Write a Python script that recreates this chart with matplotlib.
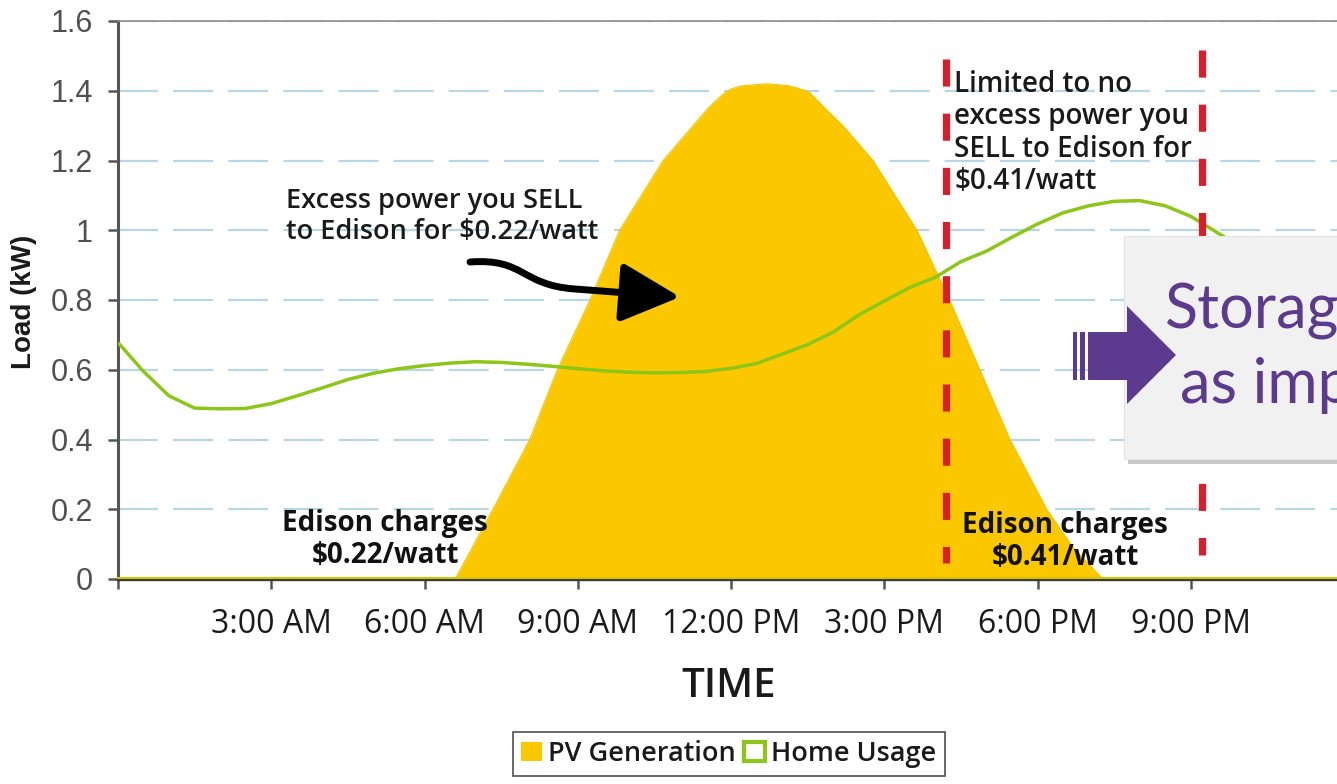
import matplotlib
matplotlib.use("Agg")
import matplotlib.pyplot as plt
from matplotlib.patches import Rectangle, Patch, FancyArrowPatch, Polygon
from matplotlib.path import Path

# ---------------- data ----------------
pv_hours = [0, 6.6, 6.97, 7.34, 8.06, 8.6, 9.24, 9.82, 10.67, 11.26, 11.55, 11.84, 12.0, 12.2,
            12.7, 13.1, 13.3, 13.54, 13.84, 14.19, 14.78, 15.64, 16.28, 16.87, 17.46, 18.18,
            18.7, 19.28, 24]
pv_values = [0, 0, 0.1, 0.2, 0.4, 0.6, 0.8, 1.0, 1.2, 1.3, 1.35, 1.39, 1.405, 1.414,
             1.42, 1.415, 1.408, 1.395, 1.35, 1.3, 1.2, 1.0, 0.8, 0.6, 0.4, 0.2,
             0.09, 0, 0]

use_hours = [0, 0.5, 1.0, 1.5, 2.0, 2.5, 3.0, 3.5, 4.0, 4.5, 5.0, 5.5, 6.0, 6.5, 7.0,
             7.5, 8.0, 8.5, 9.0, 9.5, 10.0, 10.5, 11.0, 11.5, 12.0, 12.5, 13.0, 13.5,
             14.0, 14.5, 15.0, 15.5, 16.0, 16.5, 17.0, 17.5, 18.0, 18.5, 19.0, 19.5,
             20.0, 20.5, 21.0, 21.5, 22.0, 23.0, 24.0]
use_values = [0.678, 0.595, 0.525, 0.49, 0.488, 0.489, 0.503, 0.525, 0.548, 0.572, 0.59,
              0.603, 0.612, 0.619, 0.623, 0.621, 0.616, 0.61, 0.603, 0.597, 0.593, 0.591,
              0.592, 0.595, 0.604, 0.618, 0.645, 0.672, 0.708, 0.757, 0.797, 0.836, 0.865,
              0.91, 0.94, 0.98, 1.018, 1.05, 1.07, 1.083, 1.085, 1.07, 1.04, 0.995, 0.95,
              0.85, 0.75]

tick_hours = [0, 3, 6, 9, 12, 15, 18, 21, 24]
tick_labels = ["", "3:00 AM", "6:00 AM", "9:00 AM", "12:00 PM", "3:00 PM", "6:00 PM", "9:00 PM", ""]
y_ticks = [0, 0.2, 0.4, 0.6, 0.8, 1.0, 1.2, 1.4, 1.6]
y_tick_labels = ["0", "0.2", "0.4", "0.6", "0.8", "1", "1.2", "1.4", "1.6"]

rate_lines_hours = [16.2, 21.22]
rate_lines_top = [1.49, 1.517]
rate_lines_bottom = [0.045, 0.07]

series_names = ["PV Generation", "Home Usage"]

# ---------------- style ----------------
W, H = 1337, 784
YELLOW = "#fbc800"
GREEN = "#8cc618"
RED = "#d81e2a"
PURPLE = "#5c3a8e"
GRID = "#b7d6e6"
SANS = ["Open Sans", "DejaVu Sans"]
ARIAL = ["Liberation Sans", "DejaVu Sans"]


def fx(px):
    return px / W


def fy(py):
    return 1 - py / H


fig = plt.figure(figsize=(W / 100, H / 100), dpi=100)
fig.patch.set_facecolor("white")

ax_left, ax_right, ax_top, ax_bottom = 118, 1344, 21, 579
ax = fig.add_axes([fx(ax_left), fy(ax_bottom), (ax_right - ax_left) / W, (ax_bottom - ax_top) / H])
ax.set_xlim(0, 24)
ax.set_ylim(0, 1.6)


def dx(px):
    return (px - ax_left) / (ax_right - ax_left) * 24


def dy(py):
    return (ax_bottom - py) / (ax_bottom - ax_top) * 1.6


# grid
ax.set_axisbelow(True)
ax.yaxis.grid(True, color=GRID, linewidth=1.6, linestyle=(0, (18, 6.8)))
ax.xaxis.grid(False)

# PV fill
ax.fill_between(pv_hours, pv_values, 0, color=YELLOW, linewidth=0, zorder=2)
ax.plot(pv_hours, pv_values, color="#f0c400", linewidth=0.8, zorder=2)
ax.plot([0, 24], [0.004, 0.004], color="#d9c200", linewidth=1.5, zorder=3, clip_on=False)

# Home usage line
ax.plot(use_hours, use_values, color=GREEN, linewidth=2.5, zorder=4, solid_capstyle="butt")

# red dashed rate lines
for h, t, b in zip(rate_lines_hours, rate_lines_top, rate_lines_bottom):
    ax.plot([h, h], [t, b], color=RED, linewidth=5.2, linestyle=(0, (3.75, 3.75)),
            dash_capstyle="butt", zorder=5)

# spines
ax.spines["right"].set_visible(False)
ax.spines["top"].set_color("#8a8a8a")
ax.spines["top"].set_linewidth(1.2)
ax.spines["left"].set_color("#555555")
ax.spines["left"].set_linewidth(2.2)
ax.spines["bottom"].set_color("#3a3a3a")
ax.spines["bottom"].set_linewidth(2.4)

ax.set_yticks(y_ticks)
ax.set_yticklabels(y_tick_labels, fontfamily=ARIAL, fontsize=22, color="#505050")
ax.set_xticks(tick_hours)
ax.set_xticklabels(tick_labels, fontfamily=SANS, fontsize=23, color="#1a1a1a")
ax.tick_params(axis="y", direction="out", length=7, width=1.8, color="#555555", pad=11)
ax.tick_params(axis="x", direction="out", length=7, width=1.8, color="#555555", pad=14)

# axis titles
fig.text(fx(24), fy(302), "Load (kW)", rotation=90, ha="center", va="center",
         fontsize=20, fontweight="bold", family=ARIAL, color="#1a1a1a")
fig.text(fx(729), fy(697), "TIME", ha="center", va="baseline",
         fontsize=29, fontweight="semibold", family=SANS, color="#1a1a1a")

# annotations
txt_kw = dict(family=SANS, color="#1a1a1a", fontweight="semibold")
fig.text(fx(286), fy(187), "Excess power you SELL\nto Edison for $0.22/watt", ha="left", va="top",
         fontsize=19.5, linespacing=1.12, **txt_kw)
fig.text(fx(954), fy(70), "Limited to no\nexcess power you\nSELL to Edison for\n$0.41/watt",
         ha="left", va="top", fontsize=20, linespacing=1.15, **txt_kw)
fig.text(fx(385), fy(509), "Edison charges\n$0.22/watt", ha="center", va="top", fontsize=20,
         linespacing=1.12, family=SANS, fontweight="bold", color="#111111", multialignment="center")
fig.text(fx(1065), fy(511), "Edison charges\n$0.41/watt", ha="center", va="top", fontsize=20,
         linespacing=1.12, family=SANS, fontweight="bold", color="#111111", multialignment="center")

# curly black arrow
verts = [(dx(470), dy(262)), (dx(525), dy(258)), (dx(520), dy(285)), (dx(575), dy(289)),
         (dx(680), dy(297))]
codes = [Path.MOVETO, Path.CURVE4, Path.CURVE4, Path.CURVE4, Path.LINETO]
arrow = FancyArrowPatch(path=Path(verts, codes), arrowstyle="-|>,head_length=2.6,head_width=1.3",
                        color="black", linewidth=5, mutation_scale=14, zorder=6)
ax.add_patch(arrow)

# overlay box (cropped slide element)
shadow = Rectangle((fx(1128), fy(464)), 0.3, (464 - 241) / H, transform=fig.transFigure,
                   facecolor="#9a9a9a", alpha=0.55, edgecolor="none", zorder=10)
box = Rectangle((fx(1124), fy(459)), 0.3, (459 - 236) / H, transform=fig.transFigure,
                facecolor="#f1f1f1", edgecolor="#e4e4e4", linewidth=0.8, zorder=11)
fig.patches.extend([shadow, box])
fig.text(fx(1165), fy(328), "Storage", ha="left", va="baseline", fontsize=44,
         family=["Lato", "DejaVu Sans"], color=PURPLE, zorder=12)
fig.text(fx(1180), fy(403), "as imp", ha="left", va="baseline", fontsize=44,
         family=["Lato", "DejaVu Sans"], color=PURPLE, zorder=12)

# purple block arrow
arrow_poly = Polygon([(fx(1088), fy(332)), (fx(1127), fy(332)), (fx(1127), fy(306)),
                      (fx(1176), fy(355)), (fx(1127), fy(404)), (fx(1127), fy(380)),
                      (fx(1088), fy(380))], closed=True, transform=fig.transFigure,
                     facecolor=PURPLE, edgecolor="none", zorder=13)
stripe1 = Rectangle((fx(1073), fy(380)), 4 / W, 48 / H, transform=fig.transFigure,
                    facecolor=PURPLE, edgecolor="none", zorder=13)
stripe2 = Rectangle((fx(1080), fy(380)), 5 / W, 48 / H, transform=fig.transFigure,
                    facecolor=PURPLE, edgecolor="none", zorder=13)
fig.patches.extend([arrow_poly, stripe1, stripe2])

# legend
handles = [Patch(facecolor=YELLOW, edgecolor=YELLOW, linewidth=0),
           Patch(facecolor="white", edgecolor=GREEN, linewidth=3)]
leg = fig.legend(handles, series_names, loc="center", bbox_to_anchor=(fx(729), fy(754)),
                 ncol=2, frameon=True, fancybox=False, edgecolor="#222222",
                 handlelength=0.75, handleheight=0.75, handletextpad=0.25, columnspacing=0.3,
                 borderpad=0.3, borderaxespad=0,
                 prop={"family": SANS, "size": 19.5, "weight": "semibold"})
leg.get_frame().set_linewidth(1.2)
for t in leg.get_texts():
    t.set_color("#1a1a1a")

fig.savefig("out.png", dpi=100)
